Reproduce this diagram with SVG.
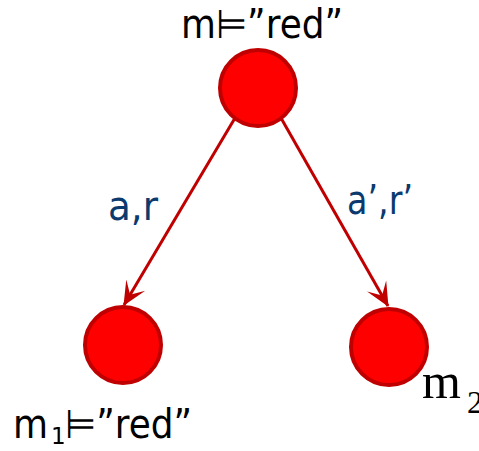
<svg xmlns="http://www.w3.org/2000/svg" width="479" height="451" viewBox="0 0 479 451">
<style>
.node{fill:#FF0000;stroke:#C00000;stroke-width:4}
.lbl{font-family:"DejaVu Sans","Liberation Sans",sans-serif;font-size:40px;fill:#000}
.edge{stroke:#C00000;stroke-width:3;fill:none}
.elbl{font-family:"DejaVu Sans","Liberation Sans",sans-serif;font-size:40px;fill:#0B3A6E}
.serif{font-family:"Liberation Serif",serif;fill:#000}
</style>
<defs>
<marker id="ah" viewBox="0 0 24 24" refX="23" refY="12" markerWidth="24" markerHeight="24" markerUnits="userSpaceOnUse" orient="auto">
<path d="M24,12 L0,1 L11,12 L0,23 Z" fill="#C00000"/>
</marker>
</defs>
<g id="edges">
<line class="edge" x1="235" y1="118" x2="124" y2="305" marker-end="url(#ah)"/>
<text class="elbl" x="108" y="220" textLength="50" lengthAdjust="spacingAndGlyphs">a,r</text>
<line class="edge" x1="281" y1="118" x2="388" y2="306" marker-end="url(#ah)"/>
<text class="elbl" x="347" y="214" textLength="66" lengthAdjust="spacingAndGlyphs">a’,r’</text>
</g>
<g id="m">
<circle class="node" cx="258" cy="88" r="38"/>
<text class="lbl" x="181" y="38" textLength="162" lengthAdjust="spacingAndGlyphs">m⊨”red”</text>
</g>
<g id="m1">
<circle class="node" cx="123" cy="345" r="38"/>
<text class="lbl" x="13" y="438" textLength="35" lengthAdjust="spacingAndGlyphs">m</text>
<text class="lbl" x="51" y="444" style="font-size:23px">1</text>
<text class="lbl" x="65" y="438" textLength="127" lengthAdjust="spacingAndGlyphs">⊨”red”</text>
</g>
<g id="m2">
<circle class="node" cx="389" cy="347" r="38"/>
<text class="serif" x="422" y="398" font-size="50">m</text>
<text class="serif" x="467" y="413" font-size="32">2</text>
</g>
</svg>
